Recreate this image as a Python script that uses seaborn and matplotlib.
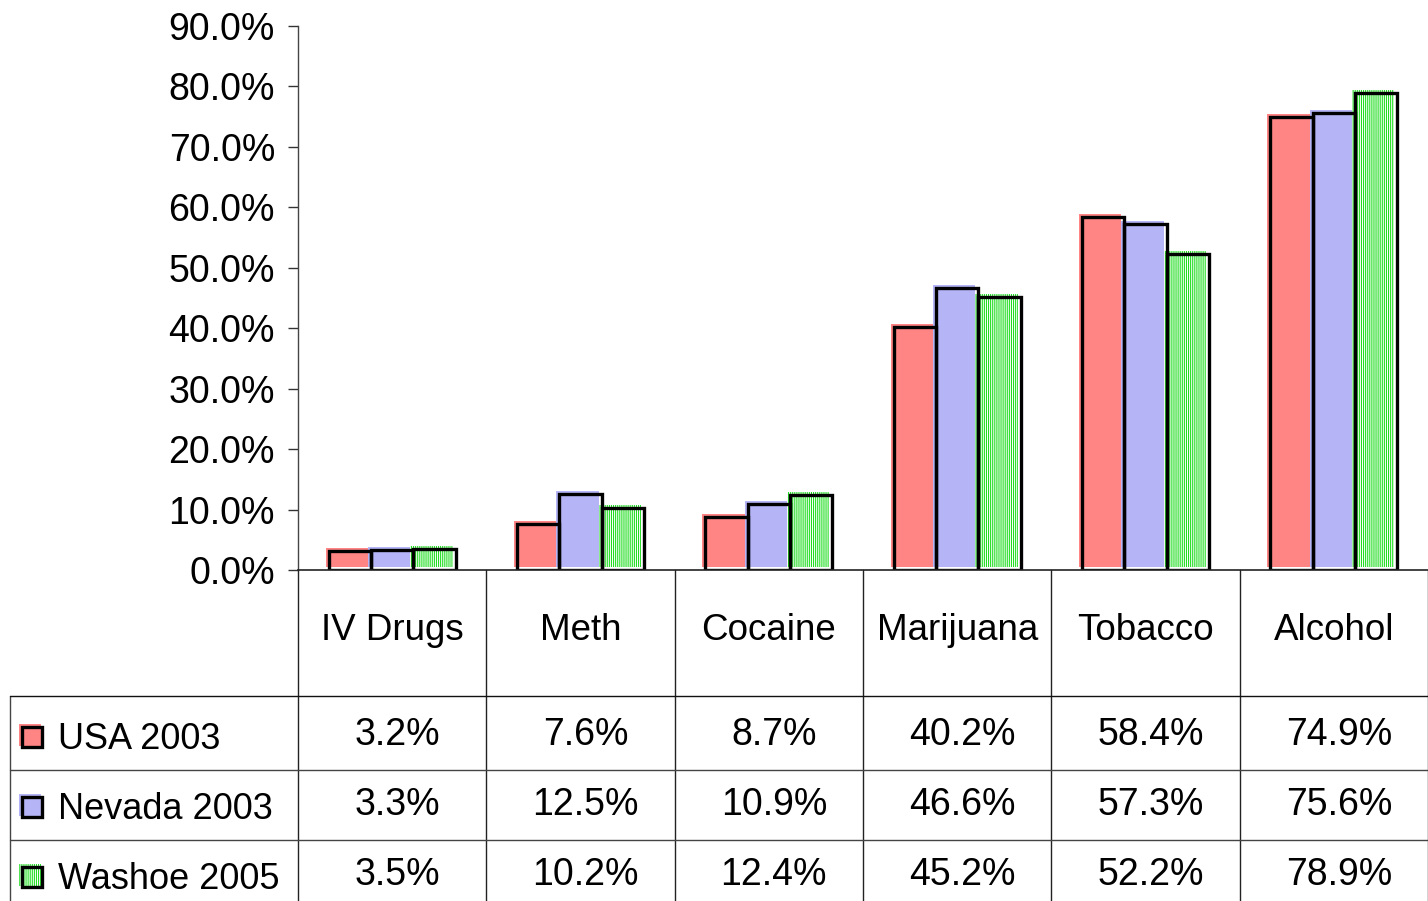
import numpy as np
import pandas as pd
import matplotlib
matplotlib.use("Agg")
import matplotlib.pyplot as plt
import matplotlib.transforms as mtransforms
from matplotlib.patches import Rectangle
from matplotlib.lines import Line2D
import seaborn as sns

# ---- data ----
categories = ["IV Drugs", "Meth", "Cocaine", "Marijuana", "Tobacco", "Alcohol"]
series = ["USA 2003", "Nevada 2003", "Washoe 2005"]
usa_2003 = [3.2, 7.6, 8.7, 40.2, 58.4, 74.9]
nevada_2003 = [3.3, 12.5, 10.9, 46.6, 57.3, 75.6]
washoe_2005 = [3.5, 10.2, 12.4, 45.2, 52.2, 78.9]
yticks = [0, 10, 20, 30, 40, 50, 60, 70, 80, 90]

series_values = [usa_2003, nevada_2003, washoe_2005]
fill_colors = ["#ff8484", "#b4b4f6", "#ffffff"]
hatch_color = "#22dd22"
stripe_hatch = "||||||||"

df = pd.DataFrame({
    "category": np.tile(categories, len(series)),
    "series": np.repeat(series, len(categories)),
    "value": np.concatenate(series_values),
})

sns.set_theme(style="white")
plt.rcParams["font.family"] = ["Liberation Sans", "DejaVu Sans"]
plt.rcParams["hatch.linewidth"] = 0.8
plt.rcParams["text.color"] = "black"
plt.rcParams["ytick.color"] = "black"
plt.rcParams["ytick.labelcolor"] = "black"

W, H = 1428, 901
fig = plt.figure(figsize=(W / 100, H / 100), dpi=100)
fig.patch.set_facecolor("white")


def fx(px):
    return px / W


def fy(py):
    return 1 - py / H


ax = fig.add_axes([fx(298), fy(570), fx(W) - fx(298), fy(26) - fy(570)])

# coloured fills, drawn slightly up-left of the black frames
sns.barplot(data=df, x="category", y="value", hue="series",
            order=categories, hue_order=series, palette=fill_colors,
            width=0.675, gap=0, saturation=1, linewidth=0,
            errorbar=None, legend=False, ax=ax)
shift = mtransforms.ScaledTranslation(-3 / 100, 3 / 100, fig.dpi_scale_trans)
for k, cont in enumerate(ax.containers):
    for p in cont:
        p.set_transform(ax.transData + shift)
        if k == 2:
            p.set_hatch(stripe_hatch)
            p.set_edgecolor(hatch_color)
            p.set_linewidth(0)

# black frames at the true bar positions
sns.barplot(data=df, x="category", y="value", hue="series",
            order=categories, hue_order=series, palette=["black"] * 3,
            width=0.675, gap=0, fill=False, linewidth=2.4,
            errorbar=None, legend=False, ax=ax)
for p in ax.patches:
    p.set_joinstyle("miter")

ax.set_xlim(-0.5, 5.5)
ax.set_ylim(0, 90)
ax.set_yticks(yticks)
ax.set_yticklabels([f"{v:.1f}%" for v in yticks])
ax.set_xticks([])
ax.set_xlabel("")
ax.set_ylabel("")
ax.tick_params(axis="y", left=True, length=7.5, width=1.0, pad=9,
               labelsize=27, color="#333333", labelcolor="black")
for s in ["top", "right"]:
    ax.spines[s].set_visible(False)
ax.spines["left"].set_color("#444444")
ax.spines["left"].set_linewidth(1.0)
ax.spines["bottom"].set_color("#222222")
ax.spines["bottom"].set_linewidth(1.2)

# ---- data table below the axis ----
bt = mtransforms.blended_transform_factory(ax.transData, fig.transFigure)
val_shift = mtransforms.ScaledTranslation(5 / 100, 0, fig.dpi_scale_trans)

for b in np.arange(-0.5, len(categories), 1.0):
    fig.add_artist(Line2D([b, b], [fy(570), fy(H)], transform=bt,
                          color="#222222", lw=1.0))
fig.add_artist(Line2D([fx(10), fx(10)], [fy(696), fy(H)],
                      transform=fig.transFigure, color="#444444", lw=1.0))
for yy, col in [(696, "#111111"), (770, "#444444"), (840, "#444444")]:
    fig.add_artist(Line2D([fx(10), fx(W)], [fy(yy), fy(yy)],
                          transform=fig.transFigure, color=col, lw=1.0))

for i, c in enumerate(categories):
    fig.text(i, fy(640), c, transform=bt, ha="center", va="baseline",
             fontsize=26.5, color="black")

value_baselines = [745, 815, 885]
header_baselines = [749, 819, 889]
for r, (name, vals) in enumerate(zip(series, series_values)):
    for i, v in enumerate(vals):
        fig.text(i, fy(value_baselines[r]), f"{v:.1f}%", transform=bt + val_shift,
                 ha="center", va="baseline", fontsize=27, color="black")
    # row header glyph: coloured square with black frame
    top = header_baselines[r] - 22
    glyph_fill = Rectangle((fx(19), fy(top + 19)), fx(22), fy(top - 3) - fy(top + 19),
                           transform=fig.transFigure, facecolor=fill_colors[r],
                           edgecolor=hatch_color if r == 2 else "none",
                           hatch=stripe_hatch if r == 2 else None, lw=0)
    glyph_frame = Rectangle((fx(21.5), fy(top + 20)), fx(20), fy(top) - fy(top + 20),
                            transform=fig.transFigure, facecolor="none",
                            edgecolor="black", lw=2.4, joinstyle="miter")
    fig.add_artist(glyph_fill)
    fig.add_artist(glyph_frame)
    fig.text(fx(58), fy(header_baselines[r]), name, ha="left", va="baseline",
             fontsize=26, color="black")

fig.savefig("out.png", dpi=100, facecolor="white")
